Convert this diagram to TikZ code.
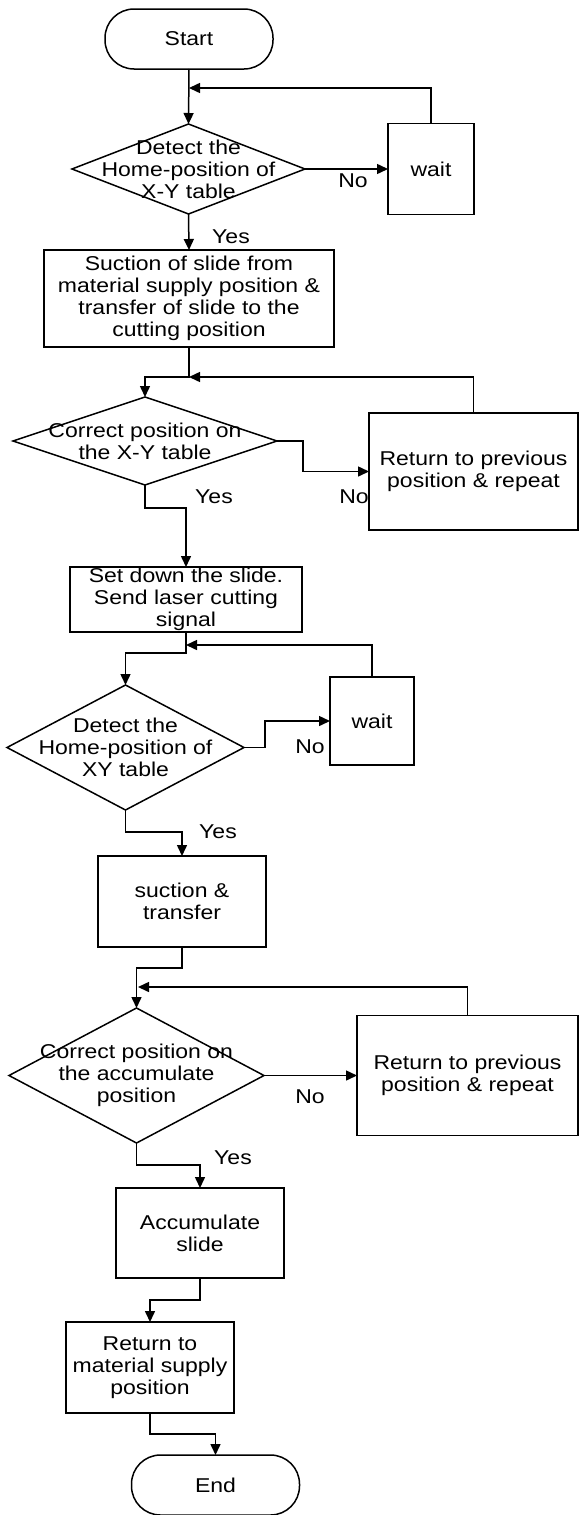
\documentclass[tikz,border=0pt]{standalone}
\usepackage{fontspec}
\setmainfont{Liberation Sans}[FakeStretch=1.15]
\usetikzlibrary{shapes.geometric,arrows.meta}
\begin{document}
\begin{tikzpicture}[x=1pt,y=-1pt,
  font=\fontsize{20}{22}\selectfont,
  every node/.style={inner sep=0pt,outer sep=0pt},
  box/.style={draw,line width=1.5pt,rectangle,align=center},
  term/.style={draw,line width=1.5pt,rectangle,rounded corners=29pt,minimum width=168,minimum height=60},
  dec/.style={draw,line width=1.5pt,diamond},
  txt/.style={align=center},
  arr/.style={line width=1.5pt,-{Triangle[length=11pt,width=10pt]}}]
\useasboundingbox (0,0) rectangle (579,1515);

% nodes
\node[term] (start) at (189,39) {Start};
\node[dec,minimum width=233,minimum height=90] (d1) at (188.5,169) {};
\node[txt] (d1t) at (d1) {Detect the\\Home-position of\\X-Y table};
\node[box,minimum width=86,minimum height=91] (w1) at (431,169) {wait};
\node[box,minimum width=290,minimum height=97] (b1) at (189,298.5)
  {Suction of slide from\\material supply position \&\\transfer of slide to the\\cutting position};
\node[dec,minimum width=264,minimum height=88] (d2) at (145,441) {};
\node[txt] (d2t) at (d2) {Correct position on\\the X-Y table};
\node[box,minimum width=209,minimum height=117] (r1) at (473.5,471.5) {Return to previous\\position \& repeat};
\node[box,minimum width=232,minimum height=65] (b2) at (186,599.5) {Set down the slide.\\Send laser cutting\\signal};
\node[dec,minimum width=237,minimum height=125] (d3) at (125.5,747.5) {};
\node[txt] (d3t) at (d3) {Detect the\\Home-position of\\XY table};
\node[box,minimum width=84,minimum height=88] (w2) at (372,721) {wait};
\node[box,minimum width=168,minimum height=91] (b3) at (182,901.5) {suction \&\\transfer};
\node[dec,minimum width=255,minimum height=135] (d4) at (136.5,1075.5) {};
\node[txt] (d4t) at (d4) {Correct position on\\the accumulate\\position};
\node[box,minimum width=221,minimum height=120] (r2) at (467.5,1075.5) {Return to previous\\position \& repeat};
\node[box,minimum width=168,minimum height=90] (b4) at (200,1233) {Accumulate\\slide};
\node[box,minimum width=168,minimum height=91] (b5) at (150,1367.5) {Return to\\material supply\\position};
\node[term] (end) at (215.5,1485) {End};

% junction coordinates
\coordinate (j0) at (189,88);
\coordinate (j1) at (189,377);
\coordinate (j2) at (186,645);
\coordinate (j3) at (138,987);

% connectors
\draw[arr] (start.south) -- (d1.north);
\draw[arr] (w1.north) |- (j0);
\draw[arr] (d1.east) -- (w1.west);
\draw[arr] (d1.south) -- (b1.north);

\draw[arr] (b1.south) -- (j1) -| (d2.north);
\draw[arr] (r1.north) |- (j1);
\draw[arr] (d2.east) -- ++(26,0) |- (r1.west);
\draw[arr] (d2.south) -- ++(0,23) -| (b2.north);

\draw[arr] (b2.south) -- ++(0,21) -| (d3.north);
\draw[arr] (w2.north) |- (j2);
\draw[arr] (d3.east) -- ++(21,0) |- (w2.west);
\draw[arr] (d3.south) -- ++(0,22) -| (b3.north);

\draw[arr] (b3.south) -- ++(0,21) -| (d4.north);
\draw[arr] (r2.north) |- (j3);
\draw[arr] (d4.east) -- (r2.west);
\draw[arr] (d4.south) -- ++(0,22) -| (b4.north);

\draw[arr] (b4.south) -- ++(0,22) -| (b5.north);
\draw[arr] (b5.south) -- ++(0,21) -| (end.north);

% labels
\node (no1) at (353,181) {No};
\node (yes1) at (231,237) {Yes};
\node (no2) at (354,497) {No};
\node (yes2) at (214,497) {Yes};
\node (no3) at (310,747) {No};
\node (yes3) at (218,832) {Yes};
\node (no4) at (310,1097) {No};
\node (yes4) at (233,1158) {Yes};
\end{tikzpicture}
\end{document}
